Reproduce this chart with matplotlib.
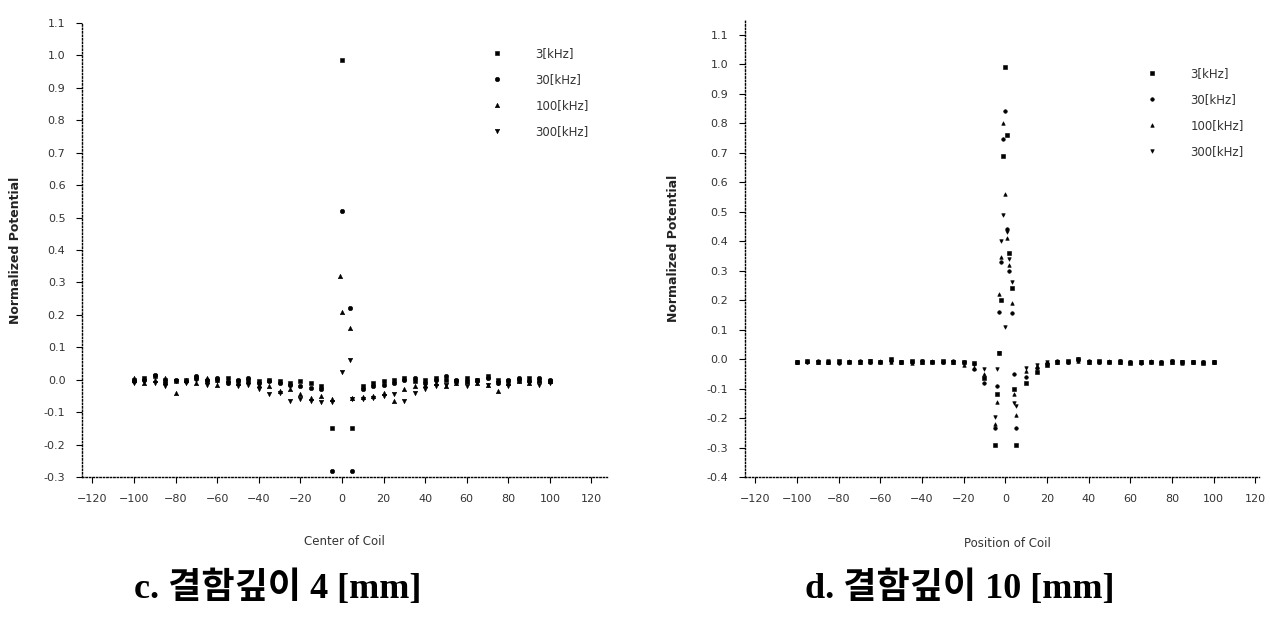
import matplotlib

matplotlib.use("Agg")
import matplotlib.pyplot as plt
from matplotlib.ticker import MultipleLocator, FormatStrFormatter

# ---- panel c: defect depth 4 mm ----
C_X_LEFT = [-100, -95, -90, -85, -80, -75, -70, -65, -60, -55, -50, -45, -40, -35, -30, -25, -20, -15, -10]
C_X_RIGHT = [10, 15, 20, 25, 30, 35, 40, 45, 50, 55, 60, 65, 70, 75, 80, 85, 90, 95, 100]

C_3K_X = [-5, 0, 5]
C_3K_Y = [-0.15, 0.985, -0.15]
C_3K_L = [0.0, 0.005, 0.01, 0.0, -0.005, 0.0, 0.005, -0.005, 0.0, 0.005, -0.005, 0.0, -0.005, 0.0, -0.005, -0.01, -0.005, -0.01, -0.02]
C_3K_R = [-0.02, -0.01, -0.005, 0.0, 0.005, -0.005, 0.0, 0.005, 0.0, -0.005, 0.005, 0.0, 0.01, 0.0, -0.005, 0.0, 0.005, 0.0, -0.005]

C_30K_X = [-5, 0, 4, 5]
C_30K_Y = [-0.28, 0.52, 0.22, -0.28]
C_30K_L = [-0.005, 0.0, 0.015, -0.01, 0.0, -0.005, 0.01, 0.0, 0.005, -0.01, 0.0, 0.005, -0.01, -0.005, -0.01, -0.015, -0.02, -0.025, -0.03]
C_30K_R = [-0.03, -0.02, -0.015, -0.01, 0.0, 0.005, -0.01, 0.0, 0.01, 0.0, -0.005, 0.0, 0.005, -0.01, 0.0, 0.005, -0.005, 0.005, 0.0]

C_100K_X = [-5, -1, 0, 4, 5]
C_100K_Y = [-0.06, 0.32, 0.21, 0.16, -0.055]
C_100K_L = [0.005, -0.01, 0.0, 0.005, -0.04, 0.0, -0.01, 0.005, -0.015, 0.0, -0.01, -0.005, -0.015, -0.02, -0.036, -0.03, -0.045, -0.055, -0.05]
C_100K_R = [-0.052, -0.05, -0.04, -0.067, -0.03, -0.02, -0.015, -0.01, -0.02, -0.01, -0.005, -0.01, -0.015, -0.035, -0.01, -0.005, -0.01, 0.0, -0.005]

C_300K_X = [-5, 0, 4, 5]
C_300K_Y = [-0.07, 0.025, 0.06, -0.06]
C_300K_L = [-0.01, -0.005, -0.01, -0.02, -0.005, -0.01, 0.0, -0.015, -0.005, -0.01, -0.02, -0.015, -0.03, -0.045, -0.04, -0.067, -0.06, -0.065, -0.07]
C_300K_R = [-0.06, -0.055, -0.05, -0.045, -0.067, -0.04, -0.03, -0.02, -0.015, -0.01, -0.02, -0.01, -0.015, -0.01, -0.02, -0.005, -0.01, -0.015, -0.01]

# ---- panel d: defect depth 10 mm ----
D_X_LEFT = [-100, -95, -90, -85, -80, -75, -70, -65, -60, -55, -50, -45, -40, -35, -30, -25, -20, -15]
D_X_RIGHT = [15, 20, 25, 30, 35, 40, 45, 50, 55, 60, 65, 70, 75, 80, 85, 90, 95, 100]
D_X_MID = [-10, -5, -4, -3, -2, -1, 0, 1, 2, 3, 4, 5, 10]

D_3K_L = [-0.01, -0.005, -0.01, -0.01, -0.005, -0.01, -0.01, -0.005, -0.01, 0.0, -0.01, -0.005, -0.01, -0.01, -0.005, -0.01, -0.01, -0.015]
D_3K_M = [-0.065, -0.29, -0.12, 0.02, 0.20, 0.69, 0.99, 0.76, 0.36, 0.24, -0.10, -0.29, -0.08]
D_3K_R = [-0.045, -0.02, -0.01, -0.005, 0.0, -0.01, -0.005, -0.01, -0.01, -0.015, -0.01, -0.01, -0.015, -0.01, -0.01, -0.01, -0.015, -0.01]

D_30K_L = [-0.01, -0.01, -0.005, -0.01, -0.015, -0.01, -0.005, -0.01, -0.01, -0.005, -0.01, -0.01, -0.005, -0.01, -0.01, -0.005, -0.01, -0.035]
D_30K_M = [-0.08, -0.235, -0.09, 0.16, 0.33, 0.745, 0.84, 0.44, 0.30, 0.155, -0.05, -0.235, -0.06]
D_30K_R = [-0.03, -0.015, -0.005, -0.01, 0.0, -0.005, -0.01, -0.01, -0.005, -0.01, -0.015, -0.01, -0.01, -0.005, -0.01, -0.01, -0.01, -0.01]

D_100K_L = [-0.01, -0.005, -0.01, -0.01, -0.01, -0.005, -0.01, -0.01, -0.005, -0.01, -0.01, -0.015, -0.01, -0.005, -0.01, -0.01, -0.02, -0.03]
D_100K_M = [-0.05, -0.22, -0.145, 0.22, 0.345, 0.80, 0.56, 0.41, 0.32, 0.19, -0.12, -0.19, -0.04]
D_100K_R = [-0.025, -0.015, -0.01, -0.01, -0.005, -0.01, -0.01, -0.005, -0.01, -0.01, -0.01, -0.005, -0.01, -0.01, -0.015, -0.01, -0.01, -0.01]

D_300K_L = [-0.01, -0.01, -0.01, -0.005, -0.01, -0.01, -0.01, -0.005, -0.01, -0.01, -0.01, -0.01, -0.005, -0.01, -0.01, -0.01, -0.015, -0.02]
D_300K_M = [-0.035, -0.195, -0.035, 0.02, 0.40, 0.49, 0.11, 0.43, 0.34, 0.26, -0.15, -0.16, -0.03]
D_300K_R = [-0.02, -0.01, -0.01, -0.01, -0.005, -0.01, -0.01, -0.01, -0.005, -0.01, -0.01, -0.01, -0.01, -0.005, -0.01, -0.01, -0.01, -0.01]

LABELS = ["3[kHz]", "30[kHz]", "100[kHz]", "300[kHz]"]
MARKERS = ["s", "o", "^", "v"]

panel_c = [
    (C_X_LEFT + C_3K_X + C_X_RIGHT, C_3K_L + C_3K_Y + C_3K_R),
    (C_X_LEFT + C_30K_X + C_X_RIGHT, C_30K_L + C_30K_Y + C_30K_R),
    (C_X_LEFT + C_100K_X + C_X_RIGHT, C_100K_L + C_100K_Y + C_100K_R),
    (C_X_LEFT + C_300K_X + C_X_RIGHT, C_300K_L + C_300K_Y + C_300K_R),
]
d_x = D_X_LEFT + D_X_MID + D_X_RIGHT
panel_d = [
    (d_x, D_3K_L + D_3K_M + D_3K_R),
    (d_x, D_30K_L + D_30K_M + D_30K_R),
    (d_x, D_100K_L + D_100K_M + D_100K_R),
    (d_x, D_300K_L + D_300K_M + D_300K_R),
]

fig = plt.figure(figsize=(12.7, 6.21), dpi=100)
ax_c = fig.add_axes([0.0646, 0.2319, 0.4134, 0.7311])
ax_d = fig.add_axes([0.5866, 0.2319, 0.405, 0.7359])

TXT = "#333333"


def style(ax, series, xlim, ylim, xlabel, ms):
    for (x, y), mk, lab in zip(series, MARKERS, LABELS):
        ax.plot(x, y, linestyle="none", marker=mk, ms=ms, color="black",
                markeredgewidth=0.4, label=lab)
    ax.set_xlim(*xlim)
    ax.set_ylim(*ylim)
    ax.xaxis.set_major_locator(MultipleLocator(20))
    ax.yaxis.set_major_locator(MultipleLocator(0.1))
    ax.yaxis.set_major_formatter(FormatStrFormatter("%.1f"))
    ax.spines[["top", "right"]].set_visible(False)
    for s in ("left", "bottom"):
        ax.spines[s].set_linestyle((0, (1, 1.5)))
        ax.spines[s].set_linewidth(1.0)
    ax.tick_params(direction="out", length=4, width=0.8, labelsize=8,
                   labelcolor=TXT, pad=8)
    ax.set_xlabel(xlabel, fontsize=8.5, color=TXT)
    ax.set_ylabel("Normalized Potential", fontsize=9, fontweight="bold", color="#222222")
    ax.patch.set_alpha(0)


style(ax_c, panel_c, (-125, 127.5), (-0.3, 1.1), "Center of Coil", 3.2)
style(ax_d, panel_d, (-125, 122), (-0.4, 1.15), "Position of Coil", 2.6)

ax_c.yaxis.set_label_coords(-0.114, 0.5)
ax_c.xaxis.set_label_coords(0.5, -0.128)
ax_d.yaxis.set_label_coords(-0.127, 0.5)
ax_d.xaxis.set_label_coords(0.51, -0.131)

for ax, anchor in ((ax_c, (0.985, 0.97)), (ax_d, (0.99, 0.92))):
    leg = ax.legend(loc="upper right", bbox_to_anchor=anchor, frameon=False,
                    fontsize=8.5, handletextpad=2.2, labelspacing=1.1,
                    markerscale=1.0)
    for t in leg.get_texts():
        t.set_color(TXT)

cap_font = ["Liberation Serif", "Noto Sans CJK KR"]
fig.text(0.219, 0.053, "c. 결함깊이 4 [mm]", family=cap_font, fontsize=26,
         fontweight="bold", ha="center", va="center")
fig.text(0.756, 0.053, "d. 결함깊이 10 [mm]", family=cap_font, fontsize=26,
         fontweight="bold", ha="center", va="center")

fig.savefig("out.png", dpi=100)
